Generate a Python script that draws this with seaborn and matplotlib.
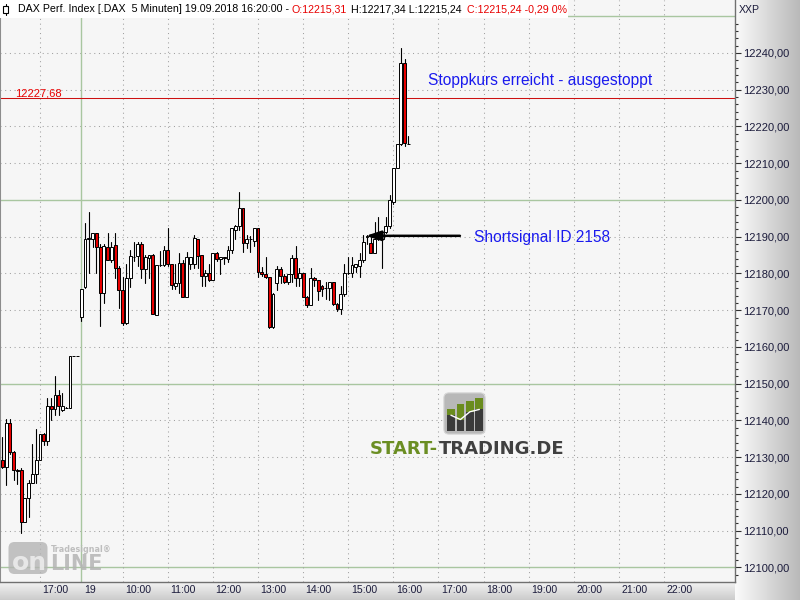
import numpy as np
import pandas as pd
import matplotlib
matplotlib.use("Agg")
import matplotlib.pyplot as plt
import matplotlib.transforms as mtransforms
from matplotlib.patches import FancyBboxPatch, Rectangle
from matplotlib.colors import LinearSegmentedColormap
from matplotlib.ticker import FixedLocator
import seaborn as sns

# ---------------- data (5-minute bars, index 0 = first bar of 19.09.) ----------------
bar_index = list(range(-21, 88))
opens = [12129.3, 12127.3, 12139.3, 12131.4, 12126.5, 12126.5, 12112.5, 12118.8, 12123.1, 12125.5,
         12129.3, 12136.4, 12134.4, 12143.9, 12143.0, 12146.8, 12142.8, 12143.5, 12143.4, 12157.5,
         12157.5,
         12168.1, 12176.4, 12189.3, 12189.3, 12190.9, 12187.3, 12174.6, 12187.1, 12183.8, 12187.8,
         12181.4, 12175.5, 12166.4, 12178.9, 12184.6, 12184.8, 12188.0, 12181.1, 12184.3, 12184.9,
         12168.7, 12182.3, 12182.3, 12186.5, 12182.6, 12176.7, 12177.3, 12182.9, 12173.5, 12182.6,
         12182.6, 12189.3, 12184.9, 12179.4, 12180.2, 12178.1, 12185.7, 12183.9, 12184.4, 12183.9,
         12186.3, 12191.9, 12192.8, 12197.8, 12188.4, 12189.4, 12188.8, 12192.4, 12180.5, 12179.9,
         12179.0, 12165.5, 12177.4, 12181.2, 12179.4, 12177.8, 12179.9, 12184.3, 12178.7, 12180.1,
         12173.6, 12171.4, 12178.7, 12178.1, 12176.6, 12176.1, 12176.1, 12177.6, 12171.8, 12170.3,
         12174.3, 12180.1, 12180.0, 12181.9, 12182.0, 12183.6, 12189.8, 12188.4, 12185.5, 12189.3,
         12189.3, 12191.4, 12192.9, 12199.5, 12208.6, 12215.2, 12237.3, 12215.31]
highs = [12135.6, 12140.4, 12140.4, 12131.6, 12126.9, 12127.2, 12118.8, 12123.8, 12133.6, 12137.7,
         12136.4, 12136.6, 12146.1, 12146.1, 12152.0, 12148.4, 12147.5, 12143.6, 12157.5, 12157.5,
         12157.5,
         12175.7, 12193.8, 12196.7, 12191.1, 12191.1, 12188.0, 12188.0, 12191.1, 12188.7, 12190.9,
         12182.0, 12179.1, 12182.6, 12186.4, 12188.7, 12188.7, 12188.7, 12185.0, 12184.9, 12185.3,
         12182.3, 12186.1, 12187.5, 12192.3, 12182.6, 12182.6, 12185.5, 12183.7, 12185.9, 12184.6,
         12190.5, 12189.3, 12185.0, 12180.9, 12182.6, 12185.7, 12185.8, 12184.4, 12184.6, 12187.5,
         12192.4, 12193.3, 12202.1, 12197.9, 12190.6, 12190.3, 12192.4, 12192.5, 12181.9, 12184.6,
         12179.1, 12174.8, 12182.1, 12181.9, 12179.9, 12179.9, 12185.0, 12187.6, 12181.4, 12180.2,
         12174.0, 12181.4, 12179.0, 12178.2, 12176.9, 12177.6, 12177.7, 12177.7, 12171.9, 12176.5,
         12182.5, 12184.4, 12184.5, 12182.5, 12185.5, 12190.5, 12190.5, 12190.0, 12194.1, 12195.5,
         12191.6, 12195.5, 12201.4, 12208.6, 12215.2, 12241.4, 12238.4, 12217.34]
lows = [12127.0, 12122.5, 12131.0, 12123.8, 12122.7, 12109.5, 12112.3, 12113.8, 12123.0, 12122.9,
        12129.3, 12133.4, 12133.4, 12140.0, 12141.5, 12141.5, 12142.5, 12143.3, 12143.4, 12157.5,
        12157.5,
        12167.2, 12176.0, 12180.0, 12187.1, 12180.2, 12165.8, 12171.9, 12183.8, 12183.2, 12178.9,
        12170.5, 12166.0, 12166.2, 12176.2, 12183.5, 12182.0, 12178.9, 12177.5, 12178.7, 12169.0,
        12168.7, 12182.0, 12182.0, 12182.0, 12175.7, 12175.7, 12174.6, 12173.5, 12173.5, 12181.1,
        12181.4, 12181.4, 12176.6, 12176.6, 12178.0, 12178.1, 12183.4, 12179.9, 12182.5, 12183.0,
        12185.5, 12189.3, 12191.8, 12185.9, 12187.0, 12185.9, 12187.5, 12179.1, 12179.4, 12178.7,
        12165.1, 12165.3, 12175.4, 12177.4, 12177.4, 12177.2, 12177.6, 12176.7, 12176.5, 12173.6,
        12170.9, 12171.4, 12176.7, 12172.7, 12174.0, 12173.1, 12172.7, 12171.5, 12169.8, 12169.1,
        12173.9, 12179.9, 12179.0, 12180.4, 12179.1, 12183.2, 12188.0, 12185.5, 12185.5, 12189.0,
        12181.4, 12191.1, 12192.5, 12198.9, 12208.6, 12215.0, 12214.7, 12215.24]
closes = [12127.3, 12139.3, 12131.4, 12126.5, 12126.3, 12112.5, 12118.8, 12123.1, 12125.5, 12129.3,
          12136.4, 12134.4, 12143.9, 12143.0, 12146.8, 12143.9, 12143.9, 12143.4, 12157.5, 12157.5,
          12157.5,
          12175.7, 12189.3, 12189.6, 12190.9, 12187.3, 12174.6, 12187.5, 12183.8, 12187.3, 12181.4,
          12175.5, 12166.4, 12178.9, 12184.8, 12184.4, 12188.0, 12181.1, 12184.6, 12184.9, 12169.0,
          12182.3, 12182.2, 12186.4, 12182.6, 12176.9, 12177.3, 12182.9, 12173.5, 12184.4, 12184.4,
          12189.6, 12184.8, 12179.4, 12180.0, 12178.1, 12185.7, 12183.9, 12184.4, 12184.3, 12186.3,
          12192.4, 12192.8, 12197.8, 12188.4, 12189.4, 12189.3, 12192.4, 12180.5, 12179.9, 12179.0,
          12165.5, 12174.5, 12181.2, 12179.4, 12177.8, 12179.9, 12184.3, 12178.7, 12180.1, 12173.6,
          12171.4, 12178.7, 12178.1, 12175.1, 12175.7, 12176.0, 12177.6, 12171.8, 12170.3, 12174.3,
          12180.2, 12180.0, 12182.3, 12182.5, 12183.6, 12188.6, 12190.3, 12185.5, 12189.3, 12190.5,
          12191.4, 12192.9, 12200.0, 12208.6, 12215.2, 12237.3, 12215.5, 12215.24]

tick_pos = [-11, 0, 11, 23, 35, 47, 59, 71, 83, 95, 107, 119, 131, 143, 155]
tick_labels = ["17:00", "19", "10:00", "11:00", "12:00", "13:00", "14:00", "15:00",
               "16:00", "17:00", "18:00", "19:00", "20:00", "21:00", "22:00"]
day_start = 0
price_ticks = list(range(12100, 12241, 10))
grid_levels = list(range(12100, 12251, 10))
stop_level = 12227.68
signal_level = 12190.25

# ---------------- style ----------------
sns.set_style("white")
plt.rcParams["font.family"] = ["Liberation Sans", "DejaVu Sans"]

RED = "#e80000"
GREEN_GRID = "#a9c6a0"
DOT = "#a0a0a0"
TXT = "#1c1c3c"

fig = plt.figure(figsize=(8, 6), dpi=100)
fig.patch.set_facecolor("#ececec")

# right panel gradient
rp = fig.add_axes([735 / 800, 0, 65 / 800, 1], zorder=0)
rp.imshow(np.linspace(0, 1, 256)[None, :], aspect="auto", extent=[0, 1, 0, 1],
          cmap=LinearSegmentedColormap.from_list("r", ["#fbfbfb", "#b9b9b9"]))
rp.set_axis_off()
# bottom band gradient
bb = fig.add_axes([0, 0, 735 / 800, 18 / 600], zorder=0)
bb.imshow(np.linspace(0, 1, 64)[:, None], aspect="auto", extent=[0, 1, 0, 1],
          cmap=LinearSegmentedColormap.from_list("b", ["#f3f3f3", "#cbcbcb"]))
bb.set_axis_off()

ax = fig.add_axes([0, 18 / 600, 735 / 800, 582 / 600], zorder=1)
ax.set_facecolor("#f6f6f6")

df = pd.DataFrame({"x": bar_index, "o": opens, "h": highs, "l": lows, "c": closes})

# grid
for lv in grid_levels:
    if lv % 50 == 0:
        ax.axhline(lv, color=GREEN_GRID, lw=1.0, zorder=1)
    else:
        ax.axhline(lv, color=DOT, lw=0.75, ls=(0, (1, 3.5)), zorder=1)
for p in tick_pos:
    if p == day_start:
        ax.axvline(p, color=GREEN_GRID, lw=1.0, zorder=1)
    else:
        ax.axvline(p, color=DOT, lw=0.75, ls=(0, (1, 3.5)), zorder=1)

ax.axhline(stop_level, color="#cc1010", lw=0.75, zorder=2)

# wicks via seaborn
wick = pd.concat([
    pd.DataFrame({"x": df.x, "y": df.l, "bar": df.x}),
    pd.DataFrame({"x": df.x, "y": df.h, "bar": df.x}),
])
sns.lineplot(data=wick, x="x", y="y", units="bar", estimator=None, color="black",
             linewidth=0.8, ax=ax, legend=False, zorder=3)

# bodies
bottoms = np.minimum(df.o, df.c)
heights = np.abs(df.c - df.o)
colors = np.where(df.c < df.o, RED, "white")
ax.bar(df.x, heights, bottom=bottoms, width=0.76, color=colors, edgecolor="black",
       linewidth=0.7, zorder=4)

ax.set_xlim(-21.62, 173.86)
ax.set_ylim(12096.05, 12254.42)
ax.set_xlabel("")
ax.set_ylabel("")

# axes / ticks
ax.yaxis.tick_right()
ax.yaxis.set_major_locator(FixedLocator(price_ticks))
ax.set_yticklabels([f"{v:.2f}".replace(".", ",") for v in price_ticks])
ax.yaxis.set_minor_locator(FixedLocator(list(np.arange(12098, 12250, 2))))
ax.tick_params(axis="y", which="major", direction="out", length=4.5, width=0.8,
               color="#303030", labelsize=8, labelcolor=TXT, pad=1.5)
ax.tick_params(axis="y", which="minor", direction="out", length=2, width=0.8, color="#303030")
ax.set_xticks(tick_pos)
ax.set_xticklabels(tick_labels)
ax.tick_params(axis="x", which="major", direction="out", length=4, width=0.8,
               color="#303030", labelsize=7.6, labelcolor=TXT, pad=-1.5)
off = mtransforms.ScaledTranslation(2.5 / 100, 0, fig.dpi_scale_trans)
for lab in ax.get_xticklabels():
    lab.set_ha("left")
    lab.set_transform(lab.get_transform() + off)
ax.tick_params(axis="x", which="minor", length=0)

ax.spines["top"].set_visible(False)
ax.spines["left"].set_color("#8c8c8c")
ax.spines["left"].set_linewidth(1.5)
ax.spines["right"].set_color("#707070")
ax.spines["right"].set_linewidth(1.0)
ax.spines["bottom"].set_color("#707070")
ax.spines["bottom"].set_linewidth(1.0)

# annotations
ax.text(-17.6, 12229.1, "12227,68", color=RED, fontsize=8, va="center", ha="left", zorder=5)
ax.text(92.2, 12232.4, "Stoppkurs erreicht - ausgestoppt", color="#1a1aee", fontsize=11.2,
        va="center", ha="left", zorder=5)
ax.text(104.4, 12189.7, "Shortsignal ID 2158", color="#1a1aee", fontsize=11.2,
        va="center", ha="left", zorder=5)
ax.annotate("", xy=(75.7, signal_level), xytext=(100.7, signal_level),
            arrowprops=dict(arrowstyle="-|>,head_length=0.9,head_width=0.3", color="black",
                            lw=1.8, shrinkA=0, shrinkB=0), zorder=6)

# header
fig.add_artist(Rectangle((0, 1 - 18 / 600), 568 / 800, 18 / 600, transform=fig.transFigure,
                         facecolor="white", edgecolor="none", zorder=5))
fig.add_artist(plt.Line2D([0.055, 0.055], [5.85, 5.965], transform=fig.dpi_scale_trans,
                          color="black", lw=0.8, zorder=6))
fig.add_artist(Rectangle((0.032, 5.875), 0.046, 0.065, transform=fig.dpi_scale_trans,
                         facecolor="white", edgecolor="black", lw=0.8, zorder=7))
hy = 1 - 9.5 / 600
for xpx, s, col in [(18, "DAX Perf. Index [.DAX  5 Minuten] 19.09.2018 16:20:00 -", "black"),
                    (292, "O:12215,31", RED),
                    (351, "H:12217,34 L:12215,24", "black"),
                    (467, "C:12215,24 -0,29 0%", RED)]:
    fig.text(xpx / 800, hy, s, color=col, fontsize=7.7, va="center", ha="left", zorder=8)

fig.text(739 / 800, 1 - 10 / 600, "XXP", color=TXT, fontsize=7.6, va="center", ha="left", zorder=8)

# START-TRADING watermark
t1 = fig.text(370 / 800, 1 - 449 / 600, "START-", color="#6b8e23", fontsize=13, fontweight="bold",
              family="DejaVu Sans", va="center", ha="left", zorder=8)
renderer = fig.canvas.get_renderer()
bb1 = t1.get_window_extent(renderer=renderer)
fig.text((bb1.x1 + 1) / 800, 1 - 449 / 600, "TRADING.DE", color="#404040", fontsize=13,
         fontweight="bold", family="DejaVu Sans", va="center", ha="left", zorder=8)
ic = fig.add_axes([443 / 800, 165 / 600, 43 / 800, 43 / 600], zorder=8)
ic.set_xlim(0, 1)
ic.set_ylim(0, 1)
ic.set_axis_off()
box = FancyBboxPatch((0.02, 0.02), 0.96, 0.96, boxstyle="round,pad=0,rounding_size=0.12",
                     facecolor="#b8b8b8", edgecolor="#d8d8d8", lw=0.8)
ic.add_patch(box)
gim = ic.imshow(np.linspace(0, 1, 64)[:, None], aspect="auto", extent=[0.02, 0.98, 0.02, 0.98],
                cmap=LinearSegmentedColormap.from_list("i", ["#dedede", "#9a9a9a"]))
gim.set_clip_path(box)
for (x0, x1, dtop, gtop) in [(0.09, 0.28, 0.46, 0.615), (0.32, 0.49, 0.36, 0.715),
                             (0.54, 0.71, 0.54, 0.79), (0.75, 0.94, 0.595, 0.87)]:
    ic.add_patch(Rectangle((x0, 0.1), x1 - x0, dtop - 0.1, facecolor="#3a3a3a", edgecolor="none"))
    ic.add_patch(Rectangle((x0, dtop), x1 - x0, gtop - dtop, facecolor="#6a8c1e", edgecolor="none"))
ic.plot([0.185, 0.405, 0.625, 0.845], [0.46, 0.36, 0.54, 0.595], color="white", lw=1.0)

# Tradesignal online watermark
fig.add_artist(FancyBboxPatch((0.085, 0.26), 0.39, 0.32, boxstyle="round,pad=0,rounding_size=0.06",
                              transform=fig.dpi_scale_trans, facecolor="#b4b4b4", edgecolor="none",
                              alpha=0.8, zorder=8))
fig.text(0.295 / 8, 0.37 / 6, "on", color="#ececec", fontsize=18, fontweight="bold",
         family="DejaVu Sans", va="center", ha="center", alpha=0.9, zorder=9)
fig.text(50 / 800, 0.363 / 6, "LINE", color="#b4b4b4", fontsize=15, fontweight="bold",
         family="DejaVu Sans", va="center", ha="left", alpha=0.85, zorder=9)
fig.text(51 / 800, 1 - 549.5 / 600, "Tradesignal\u00ae", color="#b8b8b8", fontsize=5.8,
         fontweight="bold", family="DejaVu Sans", va="center", ha="left", alpha=0.9, zorder=9)

fig.savefig("out.png", dpi=100)
